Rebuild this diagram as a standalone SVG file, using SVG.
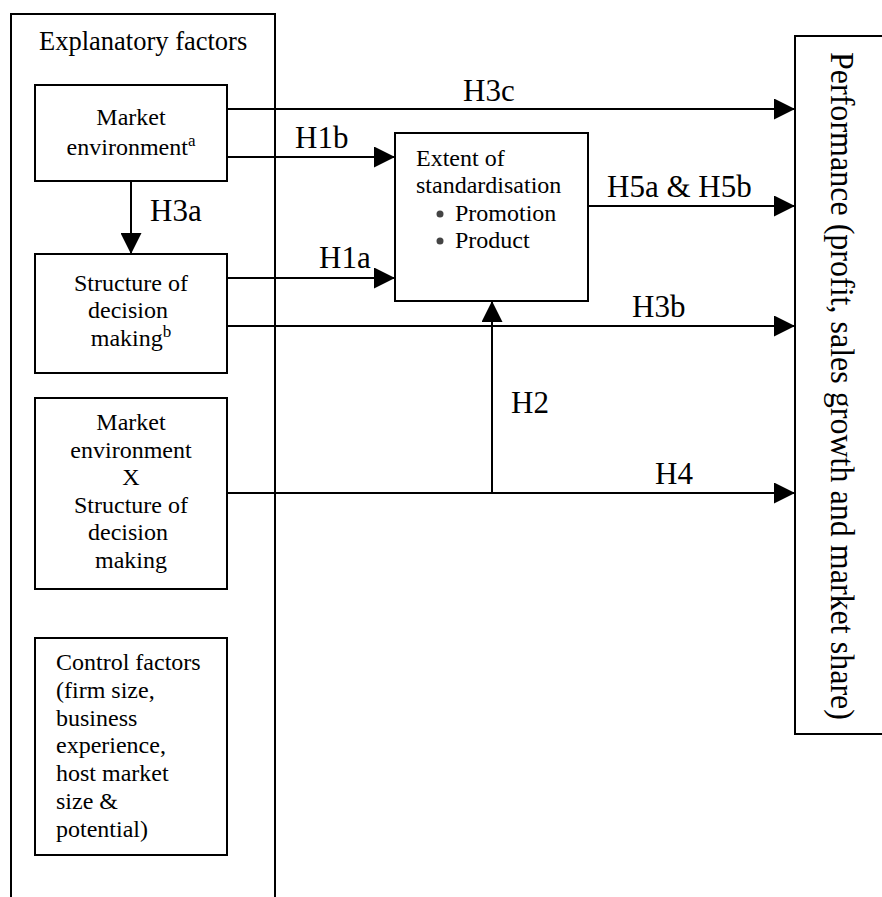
<svg xmlns="http://www.w3.org/2000/svg" width="882" height="897" viewBox="0 0 882 897">
  <style>
    .box { fill: #ffffff; stroke: #000000; stroke-width: 2; }
    .frame { fill: none; stroke: #000000; stroke-width: 2; }
    .conn { fill: none; stroke: #000000; stroke-width: 2; }
    .t { font-family: "Liberation Serif", "Times New Roman", serif; font-size: 24px; fill: #000000; }
    .tc { text-anchor: middle; }
    .lbl { font-family: "Liberation Serif", "Times New Roman", serif; font-size: 31px; fill: #000000; }
    .sup { font-size: 17px; }
    .bullet { fill: #444444; }
  </style>
  <defs>
    <marker id="arrow" markerUnits="userSpaceOnUse" markerWidth="21" markerHeight="21" refX="20" refY="10" orient="auto" viewBox="0 0 20 20">
      <path d="M0,0 L20,10 L0,20 Z" fill="#000000"/>
    </marker>
  </defs>
  <rect x="0" y="0" width="882" height="897" fill="#ffffff"/>

  <g id="explanatory-factors">
    <path class="frame" d="M11,898 V14 H275 V898"/>
    <text class="t" x="39" y="50" style="font-size:26.5px">Explanatory factors</text>
  </g>

  <g id="market-environment">
    <rect class="box" x="35" y="85" width="192" height="96"/>
    <text class="t tc" x="131" y="125">Market</text>
    <text class="t tc" x="131" y="155">environment<tspan class="sup" dy="-9">a</tspan></text>
  </g>

  <g id="structure-decision">
    <rect class="box" x="35" y="254" width="192" height="119"/>
    <text class="t tc" x="131" y="291">Structure of</text>
    <text class="t tc" x="128" y="318">decision</text>
    <text class="t tc" x="131" y="346">making<tspan class="sup" dy="-9">b</tspan></text>
  </g>

  <g id="interaction">
    <rect class="box" x="35" y="398" width="192" height="191"/>
    <text class="t tc" x="131" y="430">Market</text>
    <text class="t tc" x="131" y="458">environment</text>
    <text class="t tc" x="131" y="485">X</text>
    <text class="t tc" x="131" y="513">Structure of</text>
    <text class="t tc" x="128" y="540">decision</text>
    <text class="t tc" x="131" y="568">making</text>
  </g>

  <g id="control-factors">
    <rect class="box" x="35" y="638" width="192" height="217"/>
    <text class="t" x="56" y="670">Control factors</text>
    <text class="t" x="56" y="698">(firm size,</text>
    <text class="t" x="56" y="726">business</text>
    <text class="t" x="56" y="753">experience,</text>
    <text class="t" x="56" y="781">host market</text>
    <text class="t" x="56" y="809">size &amp;</text>
    <text class="t" x="56" y="837">potential)</text>
  </g>

  <g id="standardisation">
    <rect class="box" x="395" y="133" width="193" height="168"/>
    <text class="t" x="416" y="166">Extent of</text>
    <text class="t" x="416" y="193">standardisation</text>
    <circle class="bullet" cx="440" cy="214" r="3.5"/>
    <text class="t" x="455" y="221">Promotion</text>
    <circle class="bullet" cx="440" cy="241" r="3.5"/>
    <text class="t" x="455" y="248">Product</text>
  </g>

  <g id="performance">
    <rect class="box" x="795" y="36" width="92" height="698"/>
    <text class="t" transform="translate(831,52) rotate(90)" x="0" y="0" style="font-size:34px" textLength="668" lengthAdjust="spacingAndGlyphs">Performance (profit, sales growth and market share)</text>
  </g>

  <g id="connectors">
    <path class="conn" d="M227,109 H795" marker-end="url(#arrow)"/>
    <path class="conn" d="M227,157 H395" marker-end="url(#arrow)"/>
    <path class="conn" d="M131,181 V254" marker-end="url(#arrow)"/>
    <path class="conn" d="M227,278 H395" marker-end="url(#arrow)"/>
    <path class="conn" d="M588,206 H795" marker-end="url(#arrow)"/>
    <path class="conn" d="M227,326 H795" marker-end="url(#arrow)"/>
    <path class="conn" d="M227,493 H795" marker-end="url(#arrow)"/>
    <path class="conn" d="M492,493 V301" marker-end="url(#arrow)"/>
    <text class="lbl" x="463" y="101">H3c</text>
    <text class="lbl" x="295" y="148">H1b</text>
    <text class="lbl" x="150" y="221">H3a</text>
    <text class="lbl" x="319" y="268">H1a</text>
    <text class="lbl" x="607" y="197">H5a &amp; H5b</text>
    <text class="lbl" x="632" y="317">H3b</text>
    <text class="lbl" x="511" y="413">H2</text>
    <text class="lbl" x="655" y="484">H4</text>
  </g>
</svg>
